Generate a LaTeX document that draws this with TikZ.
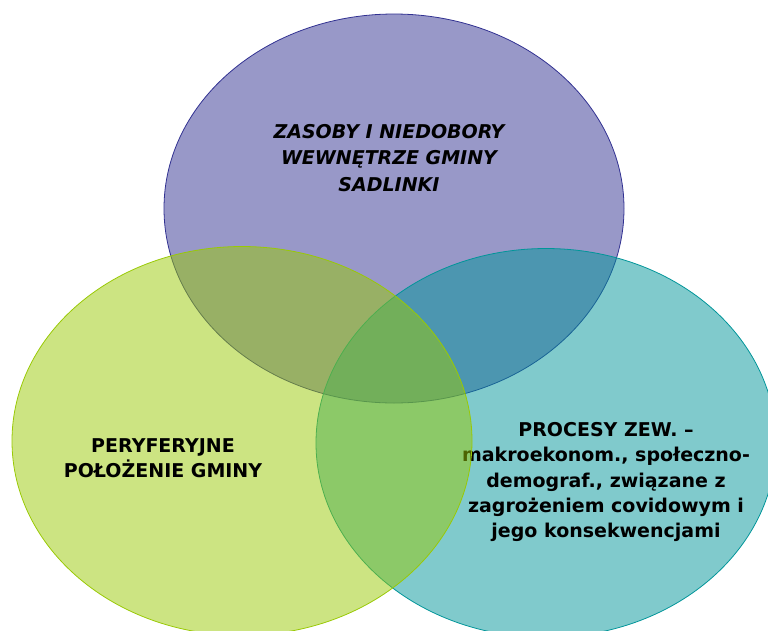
\documentclass[tikz,border=0pt]{standalone}
\usepackage{fontspec}
\setmainfont{DejaVu Sans}
\usetikzlibrary{shapes}

\definecolor{zasobycol}{RGB}{49,49,145}
\definecolor{procesycol}{RGB}{1,149,153}
\definecolor{polozeniecol}{RGB}{153,201,5}

\begin{document}
\begin{tikzpicture}[x=1pt,y=-1pt]
    \tikzset{
        set/.style={draw, ellipse, minimum width=460pt, minimum height=389pt, inner sep=0pt, line width=0.8pt, fill opacity=0.5},
        caption/.style={align=center, font=\fontsize{19}{25.25}\selectfont\bfseries},
    };
    \useasboundingbox (0,0) rectangle (768,630);

    \node [set, draw=zasobycol, fill=zasobycol] (zasoby) at (394,208.5) {};
    \node [caption, font=\fontsize{19}{26.5}\selectfont\bfseries\itshape] (zasobytext) at (389,158) {ZASOBY I NIEDOBORY\\WEWNĘTRZE GMINY\\SADLINKI};

    \node [set, draw=procesycol, fill=procesycol] (procesy) at (546,443) {};
    \node [caption] (procesytext) at (606,482) {PROCESY ZEW. --\\makroekonom., społeczno-\\demograf., związane z\\zagrożeniem covidowym i\\jego konsekwencjami};

    \node [set, draw=polozeniecol, fill=polozeniecol] (polozenie) at (242,441) {};
    \node [caption] (polozenietext) at (163,458) {PERYFERYJNE\\POŁOŻENIE GMINY};
\end{tikzpicture}
\end{document}
